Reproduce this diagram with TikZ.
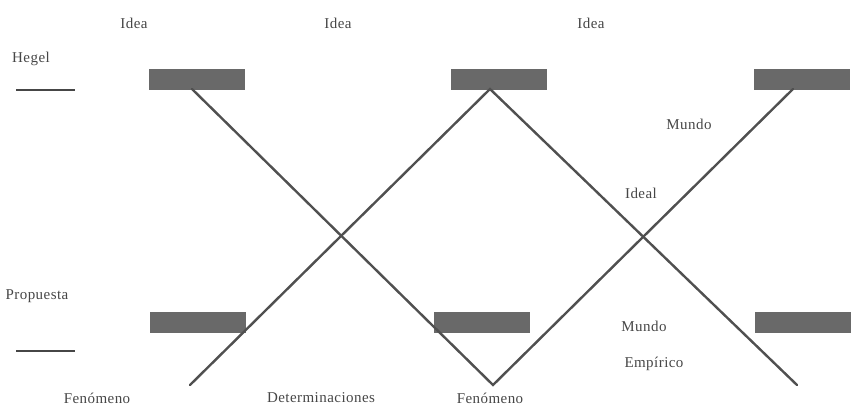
\documentclass[tikz,border=0pt]{standalone}
\usepackage{fontspec}
\setmainfont{Liberation Serif}[LetterSpace=3]
\usepackage{tikz}
\usetikzlibrary{positioning}
\definecolor{InkGray}{RGB}{70,70,70}
\definecolor{SlabGray}{RGB}{105,105,105}
\definecolor{LineGray}{RGB}{80,80,80}

\begin{document}
\begin{tikzpicture}[x=1pt,y=-1pt,
    lbl/.style={text=InkGray,font=\fontsize{15}{17}\selectfont,inner sep=0pt},
    slab/.style={fill=SlabGray,minimum width=96pt,minimum height=21pt,inner sep=0pt},
    link/.style={draw=LineGray,line width=2.4pt,line cap=round}]
      \useasboundingbox (0,0) rectangle (851,407);
      % Hegel
      \node[lbl] (hegel) at (31,59) {Hegel};
      \draw[InkGray,line width=1.1pt] (16,90)--(75,90);
      \node[lbl] (ideaA) at (134,23) {Idea};
      \node[lbl] (ideaB) at (338,23) {Idea};
      \node[lbl] (ideaC) at (591,23) {Idea};
      \node[slab] (slabA) at (197,79) {};
      \node[slab] (slabB) at (499,79) {};
      \node[slab] (slabC) at (802,79) {};
      % Propuesta
      \node[lbl] (prop) at (37,296) {Propuesta};
      \draw[InkGray,line width=1.1pt] (16,351)--(75,351);
      \node[slab] (slabD) at (198,322) {};
      \node[slab] (slabE) at (482,322) {};
      \node[slab] (slabF) at (803,322) {};
      % ends of the lines
      \coordinate (topA) at (192,89);
      \coordinate (topB) at (490,89);
      \coordinate (topC) at (793,89);
      \coordinate (botA) at (190,385);
      \coordinate (botB) at (493,385);
      \coordinate (botC) at (797,385);
      \draw[link] (topA)--(botB)--(topC);
      \draw[link] (botA)--(topB)--(botC);
      % labels on the right
      \node[lbl] (mundoI) at (689,124) {Mundo};
      \node[lbl] (ideal) at (641,193) {Ideal};
      \node[lbl] (mundoE) at (644,326) {Mundo};
      \node[lbl] (empir) at (654,364) {Empírico};
      % labels at the bottom
      \node[lbl] (fenA) at (97,398) {Fenómeno};
      \node[lbl] (deter) at (321,398) {Determinaciones};
      \node[lbl] (fenB) at (490,398) {Fenómeno};
    \end{tikzpicture}
\end{document}
